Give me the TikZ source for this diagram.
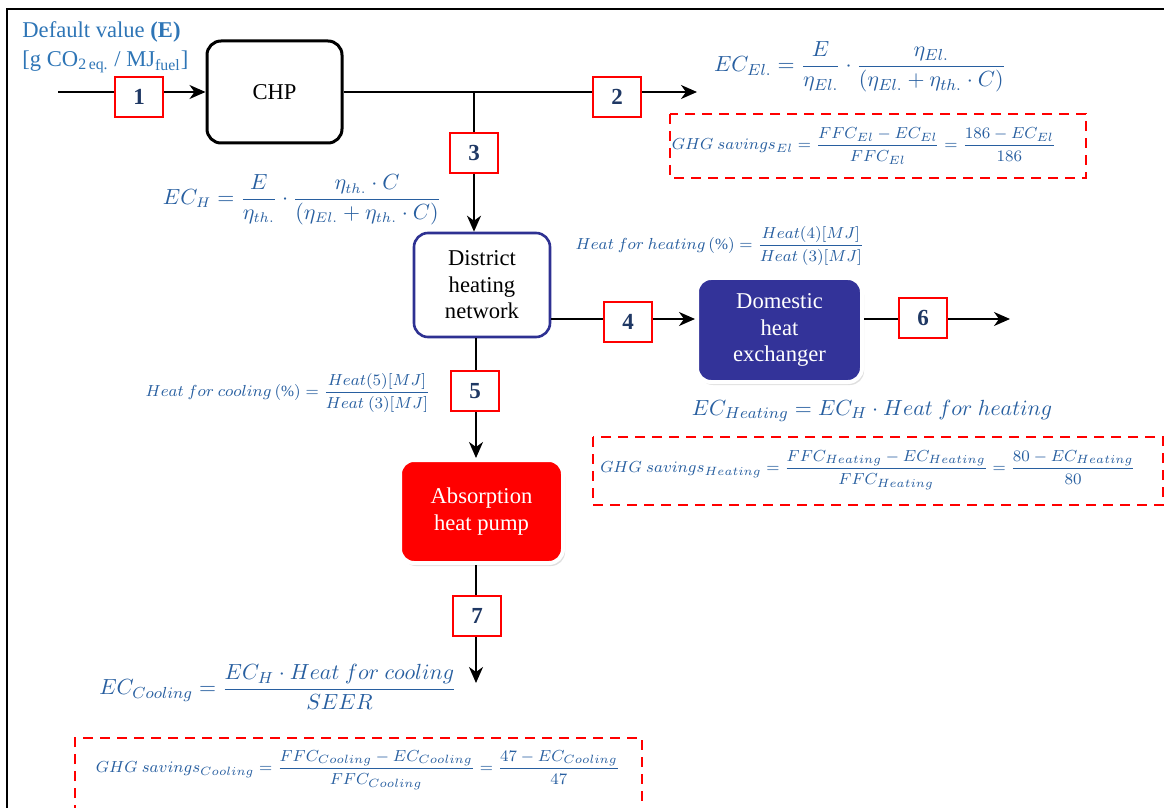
\documentclass[tikz,border=0pt]{standalone}
\usepackage{amsmath}
\usepackage{fontspec}
\setmainfont{Liberation Serif}
\usetikzlibrary{arrows.meta,shadows}
\definecolor{txtblue}{RGB}{46,117,182}
\definecolor{eqblue}{RGB}{40,95,160}
\definecolor{numblue}{RGB}{31,56,100}
\definecolor{dhnavy}{RGB}{46,49,146}
\definecolor{dhfill}{RGB}{51,51,153}

\begin{document}
\begin{tikzpicture}[x=0.5pt, y=-0.5pt, >={Stealth[length=8pt,width=7pt,inset=2.5pt]},
    font=\fontsize{11.3}{13.3}\selectfont,
    flow/.style={line width=0.9pt},
    num/.style={draw=red, line width=1.3pt, fill=white, minimum width=24pt, minimum height=20pt, inner sep=0pt, text=numblue, font=\fontsize{11.5}{12}\selectfont\bfseries},
    unit/.style={rounded corners=7pt, align=center, inner sep=0pt},
    hot/.style={unit, draw=white, line width=2pt, text=white, drop shadow={shadow xshift=1pt, shadow yshift=-1.5pt, opacity=0.25}},
    eqL/.style={text=eqblue, inner sep=0pt, font=\fontsize{11}{13}\selectfont},
    eqM/.style={text=eqblue, inner sep=0pt, font=\fontsize{8.5}{10}\selectfont},
    eqS/.style={text=eqblue, inner sep=0pt, font=\fontsize{7.8}{9}\selectfont},
    saving/.style={draw=red, line width=1.3pt, dash pattern=on 5pt off 3.5pt}]
    \useasboundingbox (0,0) rectangle (1164,808);
    \draw[line width=1.1pt] (7,812) -- (7,9) -- (1170,9);

    \node[anchor=west, text=txtblue, inner sep=0pt] (dv) at (22,32) {Default value \textbf{(E)}};
    \node[anchor=west, text=txtblue, inner sep=0pt] (du) at (22,62) {[g CO\textsubscript{2\,eq.} / MJ\textsubscript{fuel}]};

    \node[unit, draw=black, line width=1.5pt, minimum width=67.5pt, minimum height=51pt] (CHP) at (274.5,92) {CHP};
    \node[unit, draw=dhnavy, fill=white, line width=1.3pt, minimum width=68pt, minimum height=52pt] (DH) at (482,285) {District\\heating\\network};
    \node[hot, fill=dhfill, minimum width=82.5pt, minimum height=52pt] (Dom) at (779.5,330) {Domestic\\heat\\exchanger};
    \node[hot, fill=red, minimum width=81.5pt, minimum height=51.5pt] (Abs) at (481.5,511.5) {Absorption\\heat pump};

    \coordinate (in) at (58,92);
    \coordinate (br) at (474,92);
    \coordinate (elout) at (697,92);
    \coordinate (hy) at (0,319);
    \coordinate (hout) at (1010,319);
    \coordinate (cx) at (476,0);
    \coordinate (cout) at (476,683);

    \draw[flow,->] (in) -- (CHP.west |- in);
    \draw[flow,->] (CHP.east |- in) -- (elout);
    \draw[flow,->] (br) -- (br |- DH.north);
    \draw[flow,->] (DH.east |- hy) -- (Dom.west |- hy);
    \draw[flow,->] (Dom.east |- hy) -- (hout);
    \draw[flow,->] (cx |- DH.south) -- (cx |- Abs.north);
    \draw[flow,->] (cx |- Abs.south) -- (cout);

    \node[num] (n1) at (139,97) {1};
    \node[num] (n2) at (617,97) {2};
    \node[num] (n3) at (474,153) {3};
    \node[num] (n4) at (628,322) {4};
    \node[num] (n5) at (475,391) {5};
    \node[num] (n6) at (923,318) {6};
    \node[num] (n7) at (477,616) {7};

    \node[eqL] (ecel) at (860,67) {$EC_{El.}=\dfrac{E}{\eta_{El.}}\cdot\dfrac{\eta_{El.}}{(\eta_{El.}+\eta_{th.}\cdot C)}$};
    \node[eqL, font=\fontsize{10.7}{13}\selectfont] (ech) at (302,200) {$EC_{H}=\dfrac{E}{\eta_{th.}}\cdot\dfrac{\eta_{th.}\cdot C}{(\eta_{El.}+\eta_{th.}\cdot C)}$};
    \node[eqS] (hfh) at (720,246) {$Heat\ for\ heating\,(\%)=\dfrac{Heat(4)[MJ]}{Heat\ (3)[MJ]}$};
    \node[eqS] (hfc) at (288,393) {$Heat\ for\ cooling\,(\%)=\dfrac{Heat(5)[MJ]}{Heat\ (3)[MJ]}$};
    \node[eqL] (echeat) at (872,411) {$EC_{Heating}=EC_{H}\cdot Heat\ for\ heating$};
    \node[eqL] (eccool) at (278,687) {$EC_{Cooling}=\dfrac{EC_{H}\cdot Heat\ for\ cooling}{SEER}$};

    \draw[saving] (670,114) rectangle (1086,178);
    \node[eqM, font=\fontsize{8.1}{10}\selectfont] (gel) at (864,146) {$GHG\ savings_{El}=\dfrac{FFC_{El}-EC_{El}}{FFC_{El}}=\dfrac{186-EC_{El}}{186}$};
    \draw[saving] (593,437) rectangle (1163,505);
    \node[eqM] (gheat) at (868,470) {$GHG\ savings_{Heating}=\dfrac{FFC_{Heating}-EC_{Heating}}{FFC_{Heating}}=\dfrac{80-EC_{Heating}}{80}$};
    \draw[saving] (75,815) -- (75,738) -- (642,738) -- (642,815);
    \node[eqM] (gcool) at (358,770) {$GHG\ savings_{Cooling}=\dfrac{FFC_{Cooling}-EC_{Cooling}}{FFC_{Cooling}}=\dfrac{47-EC_{Cooling}}{47}$};
\end{tikzpicture}
\end{document}
